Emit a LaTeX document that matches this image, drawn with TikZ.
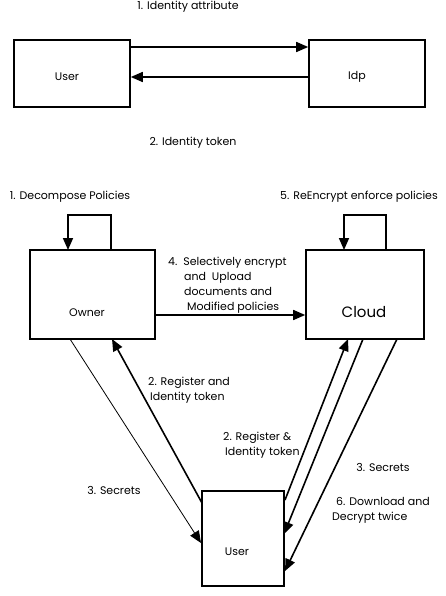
\documentclass[tikz,border=0pt]{standalone}
\usepackage{fontspec}
\setmainfont{Poppins}
\usetikzlibrary{arrows.meta}
\begin{document}
\begin{tikzpicture}[x=1pt,y=-1pt,
  box/.style={draw, line width=1.6pt, inner sep=0pt},
  lbl/.style={font=\fontsize{11}{15}\selectfont, inner sep=0pt, align=left},
  arr/.style={line width=1.6pt, -{Triangle[length=12pt,width=10pt]}},
  thinarr/.style={line width=0.8pt, -{Triangle[length=12pt,width=10pt]}}]
\useasboundingbox (0,0) rectangle (446,596);
% top part
\node[box, minimum width=116pt, minimum height=67pt] (u1) at (72,73.5) {};
\node[box, minimum width=116pt, minimum height=67pt] (idp) at (367,73.5) {};
\node[lbl] (u1t) at (67,77) {User};
\node[lbl] (idpt) at (357,77) {Idp};
\draw[arr] (u1.north east |- 0,47) coordinate (a1) -- (a1 -| idp.west);
\draw[arr] (idp.west |- 0,77) coordinate (a2) -- (a2 -| u1.east);
\node[lbl] (t1) at (188,7) {1. Identity attribute};
\node[lbl] (t2) at (193,143) {2. Identity token};
% lower part
\node[box, minimum width=125pt, minimum height=89pt] (own) at (92.5,294.5) {};
\node[box, minimum width=118pt, minimum height=89pt] (cl) at (365,294.5) {};
\node[box, minimum width=82pt, minimum height=95pt] (u2) at (243,538.5) {};
\node[lbl] (ownt) at (87,313) {Owner};
\node[lbl, font=\fontsize{15}{18}\selectfont] (clt) at (364,312) {Cloud};
\node[lbl] (u2t) at (237,552) {User};
% self loops
\coordinate (ol1) at (111,250);
\coordinate (ol2) at (68,250);
\draw[arr] (ol1) -- (111,215) -- (68,215) -- (ol2);
\coordinate (cl1) at (386,250);
\coordinate (cl2) at (344,250);
\draw[arr] (cl1) -- (386,215) -- (344,215) -- (cl2);
\node[lbl] (t3) at (70,197) {1. Decompose Policies};
\node[lbl] (t4) at (359,197) {5. ReEncrypt enforce policies};
% owner -> cloud
\draw[arr] (own.east |- 0,315) coordinate (a3) -- (a3 -| cl.west);
\node[lbl, anchor=west] (t5) at (168,285.5) {4.\ \ Selectively encrypt\\\hspace*{16pt}and\ \ Upload\\\hspace*{16pt}documents and\\\hspace*{19pt}Modified policies};
% owner <-> user
\coordinate (o1) at (70,339);
\coordinate (u2a) at (201,543);
\draw[thinarr] (o1) -- (u2a);
\coordinate (o2) at (112,339);
\coordinate (u2b) at (202,503);
\draw[arr] (u2b) -- (o2);
\node[lbl] (t6) at (114,490) {3. Secrets};
\node[lbl, anchor=west] (t7) at (148,390.5) {2. Register and\\\hspace*{2pt}Identity token};
% user <-> cloud
\coordinate (u2c) at (285,500);
\coordinate (c1) at (348,339);
\draw[arr] (u2c) -- (c1);
\coordinate (c2) at (363,339);
\coordinate (u2d) at (284,534);
\draw[arr] (c2) -- (u2d);
\coordinate (c3) at (397,339);
\coordinate (u2e) at (285,571);
\draw[arr] (c3) -- (u2e);
\node[lbl, anchor=west] (t8) at (223,445.5) {2. Register \&\\\hspace*{2pt}Identity token};
\node[lbl] (t9) at (383,467) {3. Secrets};
\node[lbl, anchor=west] (t10) at (332,510) {\hspace*{4pt}6. Download and\\Decrypt twice};
\end{tikzpicture}
\end{document}
